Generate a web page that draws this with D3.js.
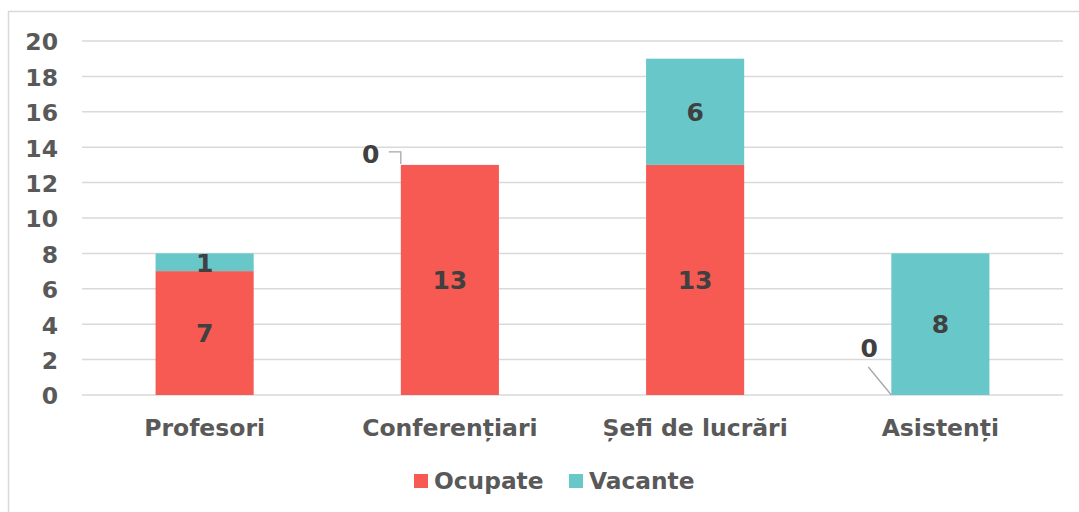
<!DOCTYPE html>
<html><head><meta charset="utf-8">
<script src="https://cdn.jsdelivr.net/npm/d3@7"></script>
<style>html,body{margin:0;padding:0;background:#fff;overflow:hidden}</style>
</head><body>
<svg id="c" width="1079" height="512"></svg>
<script>
const categories = ["Profesori", "Conferențiari", "Șefi de lucrări", "Asistenți"];
const seriesNames = ["Ocupate", "Vacante"];
const ocupate = [7, 13, 13, 0];
const vacante = [1, 0, 6, 8];
const yTicks = [0, 2, 4, 6, 8, 10, 12, 14, 16, 18, 20];
const colors = ["#F65A53", "#68C8C9"];

const svg = d3.select("#c");
const font = "'DejaVu Sans', Verdana, sans-serif";
const m = {left: 82, right: 1063, top: 41, bottom: 395};

svg.append("rect").attr("x", 8.5).attr("y", 11.5).attr("width", 1090).attr("height", 520)
  .attr("fill", "#fff").attr("stroke", "#d9d9d9").attr("stroke-width", 1.5);

const x = d3.scaleBand().domain(categories).range([m.left, m.right]).paddingInner(0.6).paddingOuter(0.3);
const y = d3.scaleLinear().domain([0, 20]).range([m.bottom, m.top]);

// gridlines
svg.append("g").selectAll("line").data(yTicks).join("line")
  .attr("x1", m.left).attr("x2", m.right)
  .attr("y1", d => y(d)).attr("y2", d => y(d))
  .attr("stroke", "#d9d9d9").attr("stroke-width", 1.5);

// y axis labels
const yAxis = d3.axisLeft(y).tickValues(yTicks).tickSize(0).tickPadding(0);
const gy = svg.append("g").attr("transform", `translate(${58},0)`).call(yAxis);
gy.select(".domain").remove();
gy.selectAll("text").attr("font-family", font).attr("font-weight", "bold")
  .attr("font-size", 23.5).attr("fill", "#595959").attr("dy", "0.38em");

// stacked data
const rows = categories.map((c, i) => ({cat: c, Ocupate: ocupate[i], Vacante: vacante[i]}));
const stack = d3.stack().keys(seriesNames)(rows);

const layers = svg.append("g").selectAll("g").data(stack).join("g").attr("fill", (d, i) => colors[i]);
layers.selectAll("rect").data(d => d).join("rect")
  .attr("x", d => x(d.data.cat)).attr("width", x.bandwidth())
  .attr("y", d => y(d[1])).attr("height", d => y(d[0]) - y(d[1]));

// labels
const lab = svg.append("g").attr("font-family", font).attr("font-weight", "bold")
  .attr("font-size", 25).attr("fill", "#404040").attr("text-anchor", "middle");
stack.forEach((layer, si) => {
  layer.forEach(d => {
    const v = d[1] - d[0];
    const cx = x(d.data.cat) + x.bandwidth() / 2;
    if (v > 0) {
      lab.append("text").attr("x", cx).attr("y", y((d[0] + d[1]) / 2)).attr("dy", "0.37em").text(v);
    } else {
      const bx = x(d.data.cat);
      const by = y(d[1]);
      if (si === 1) {
        lab.append("text").attr("x", bx - 30).attr("y", by - 11).attr("dy", "0.37em").text(v);
        svg.append("path").attr("d", `M${bx - 12},${by - 13}H${bx}V${by - 1}`)
          .attr("fill", "none").attr("stroke", "#a6a6a6").attr("stroke-width", 1.3);
      } else {
        lab.append("text").attr("x", bx - 22).attr("y", by - 47).attr("dy", "0.37em").text(v);
        svg.append("path").attr("d", `M${bx - 23},${by - 28}L${bx},${by}`)
          .attr("fill", "none").attr("stroke", "#a6a6a6").attr("stroke-width", 1.3);
      }
    }
  });
});

// x axis labels
const xAxis = d3.axisBottom(x).tickSize(0).tickPadding(0);
const gx = svg.append("g").attr("transform", `translate(0,436)`).call(xAxis);
gx.select(".domain").remove();
gx.selectAll("text").attr("font-family", font).attr("font-weight", "bold")
  .attr("font-size", 23.5).attr("fill", "#595959").attr("dy", 0);

// legend
const leg = svg.append("g");
const legX = [414, 569];
seriesNames.forEach((s, i) => {
  leg.append("rect").attr("x", legX[i]).attr("y", 474).attr("width", 14).attr("height", 14).attr("fill", colors[i]);
  leg.append("text").attr("x", legX[i] + 20).attr("y", 489).attr("font-family", font).attr("font-weight", "bold")
    .attr("font-size", 23.3).attr("fill", "#595959").text(s);
});
</script>
</body></html>
